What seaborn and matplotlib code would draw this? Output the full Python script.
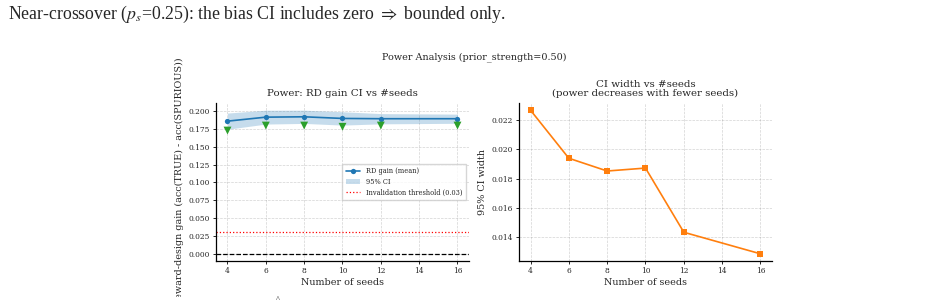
import matplotlib
matplotlib.use("Agg")
import matplotlib.pyplot as plt
from matplotlib.ticker import FormatStrFormatter
from matplotlib.transforms import Bbox
import seaborn as sns

sns.set_theme(style="ticks")
plt.rcParams["font.family"] = ["DejaVu Serif"]
plt.rcParams["mathtext.fontset"] = "stix"

# values
seeds = [4, 6, 8, 10, 12, 16]
rd_gain_mean = [0.1859, 0.1915, 0.1920, 0.1897, 0.1893, 0.1893]
ci_width = [0.02268, 0.01940, 0.01853, 0.01873, 0.01435, 0.01288]
rd_gain_low_marker = [0.1727, 0.1797, 0.1797, 0.1780, 0.1797, 0.1797]
threshold = 0.03

ci_low = [m - w / 2 for m, w in zip(rd_gain_mean, ci_width)]
ci_high = [m + w / 2 for m, w in zip(rd_gain_mean, ci_width)]

W, H = 928, 305
fig = plt.figure(figsize=(W / 100, H / 100), dpi=100)

# page text around the embedded figure
page_txt = fig.text(8 / W, 1 - 19 / H,
                    r"Near-crossover ($p_s$=0.25): the bias CI includes zero $\Rightarrow$ bounded only.",
                    fontsize=12, family=["Liberation Serif", "DejaVu Serif"],
                    va="baseline", ha="left")
# fit the line to the width it has on the page (ends near x=506)
renderer = fig.canvas.get_renderer()
bb = page_txt.get_window_extent(renderer)
page_txt.set_fontsize(12 * (506 - 8) / bb.width)

fig.text(278 / W, 1 - 302 / H, "^", fontsize=6, family=["Liberation Serif"], ha="center")

fig.suptitle("Power Analysis (prior_strength=0.50)", x=474 / W, y=1 - 52 / H, fontsize=6.9)

ax1 = fig.add_axes([216 / W, 44 / H, 253 / W, 158 / H])
ax2 = fig.add_axes([519 / W, 44 / H, 253 / W, 158 / H])

tick_fs = 5.4
label_fs = 6.9
title_fs = 7.4

# left panel: RD gain with CI
ax1.fill_between(seeds, ci_low, ci_high, color="#1f77b4", alpha=0.25, lw=0, label="95% CI")
sns.lineplot(x=seeds, y=rd_gain_mean, marker="o", color="#1f77b4", lw=1.2,
             markersize=3.8, markeredgewidth=0, label="RD gain (mean)", ax=ax1)
sns.scatterplot(x=seeds, y=rd_gain_low_marker, marker="v", color="#2ca02c", s=32,
                edgecolor="none", ax=ax1, zorder=3)
ax1.axhline(threshold, color="red", ls=":", lw=0.9, label=f"Invalidation threshold ({threshold})")
ax1.axhline(0, color="black", ls="--", lw=0.9)

handles, labels = ax1.get_legend_handles_labels()
order = [labels.index("RD gain (mean)"), labels.index("95% CI"),
         labels.index(f"Invalidation threshold ({threshold})")]
ax1.legend([handles[i] for i in order], [labels[i] for i in order], loc="center right",
           fontsize=4.8, frameon=True, fancybox=False, edgecolor="#cccccc",
           handlelength=2.2, borderpad=0.5, labelspacing=0.4)

ax1.set_title("Power: RD gain CI vs #seeds", fontsize=title_fs, pad=5)
ax1.set_xlabel("Number of seeds", fontsize=label_fs, labelpad=2)
yl = ax1.set_ylabel("Reward-design gain (acc(TRUE) - acc(SPURIOUS))", fontsize=label_fs, labelpad=3)
yl.set_clip_box(Bbox([[0, 8], [W, H]]))
yl.set_clip_on(True)

# right panel: CI width
sns.lineplot(x=seeds, y=ci_width, marker="s", color="#ff7f0e", lw=1.2,
             markersize=3.8, markeredgewidth=0, ax=ax2)
ax2.set_title("CI width vs #seeds\n(power decreases with fewer seeds)", fontsize=title_fs, pad=5,
              linespacing=0.95)
ax2.set_xlabel("Number of seeds", fontsize=label_fs, labelpad=2)
ax2.set_ylabel("95% CI width", fontsize=label_fs, labelpad=3)
ax2.set_yticks([0.014, 0.016, 0.018, 0.020, 0.022])

for ax in (ax1, ax2):
    ax.set_xticks([4, 6, 8, 10, 12, 14, 16])
    ax.tick_params(labelsize=tick_fs, length=2.5, width=0.7, pad=2)
    ax.grid(True, ls="--", lw=0.5, alpha=0.35, color="gray")
    for side in ("top", "right"):
        ax.spines[side].set_visible(False)
    for side in ("left", "bottom"):
        ax.spines[side].set_linewidth(0.9)
        ax.spines[side].set_color("black")
    ax.yaxis.set_major_formatter(FormatStrFormatter("%.3f"))

fig.savefig("out.png", dpi=100)
